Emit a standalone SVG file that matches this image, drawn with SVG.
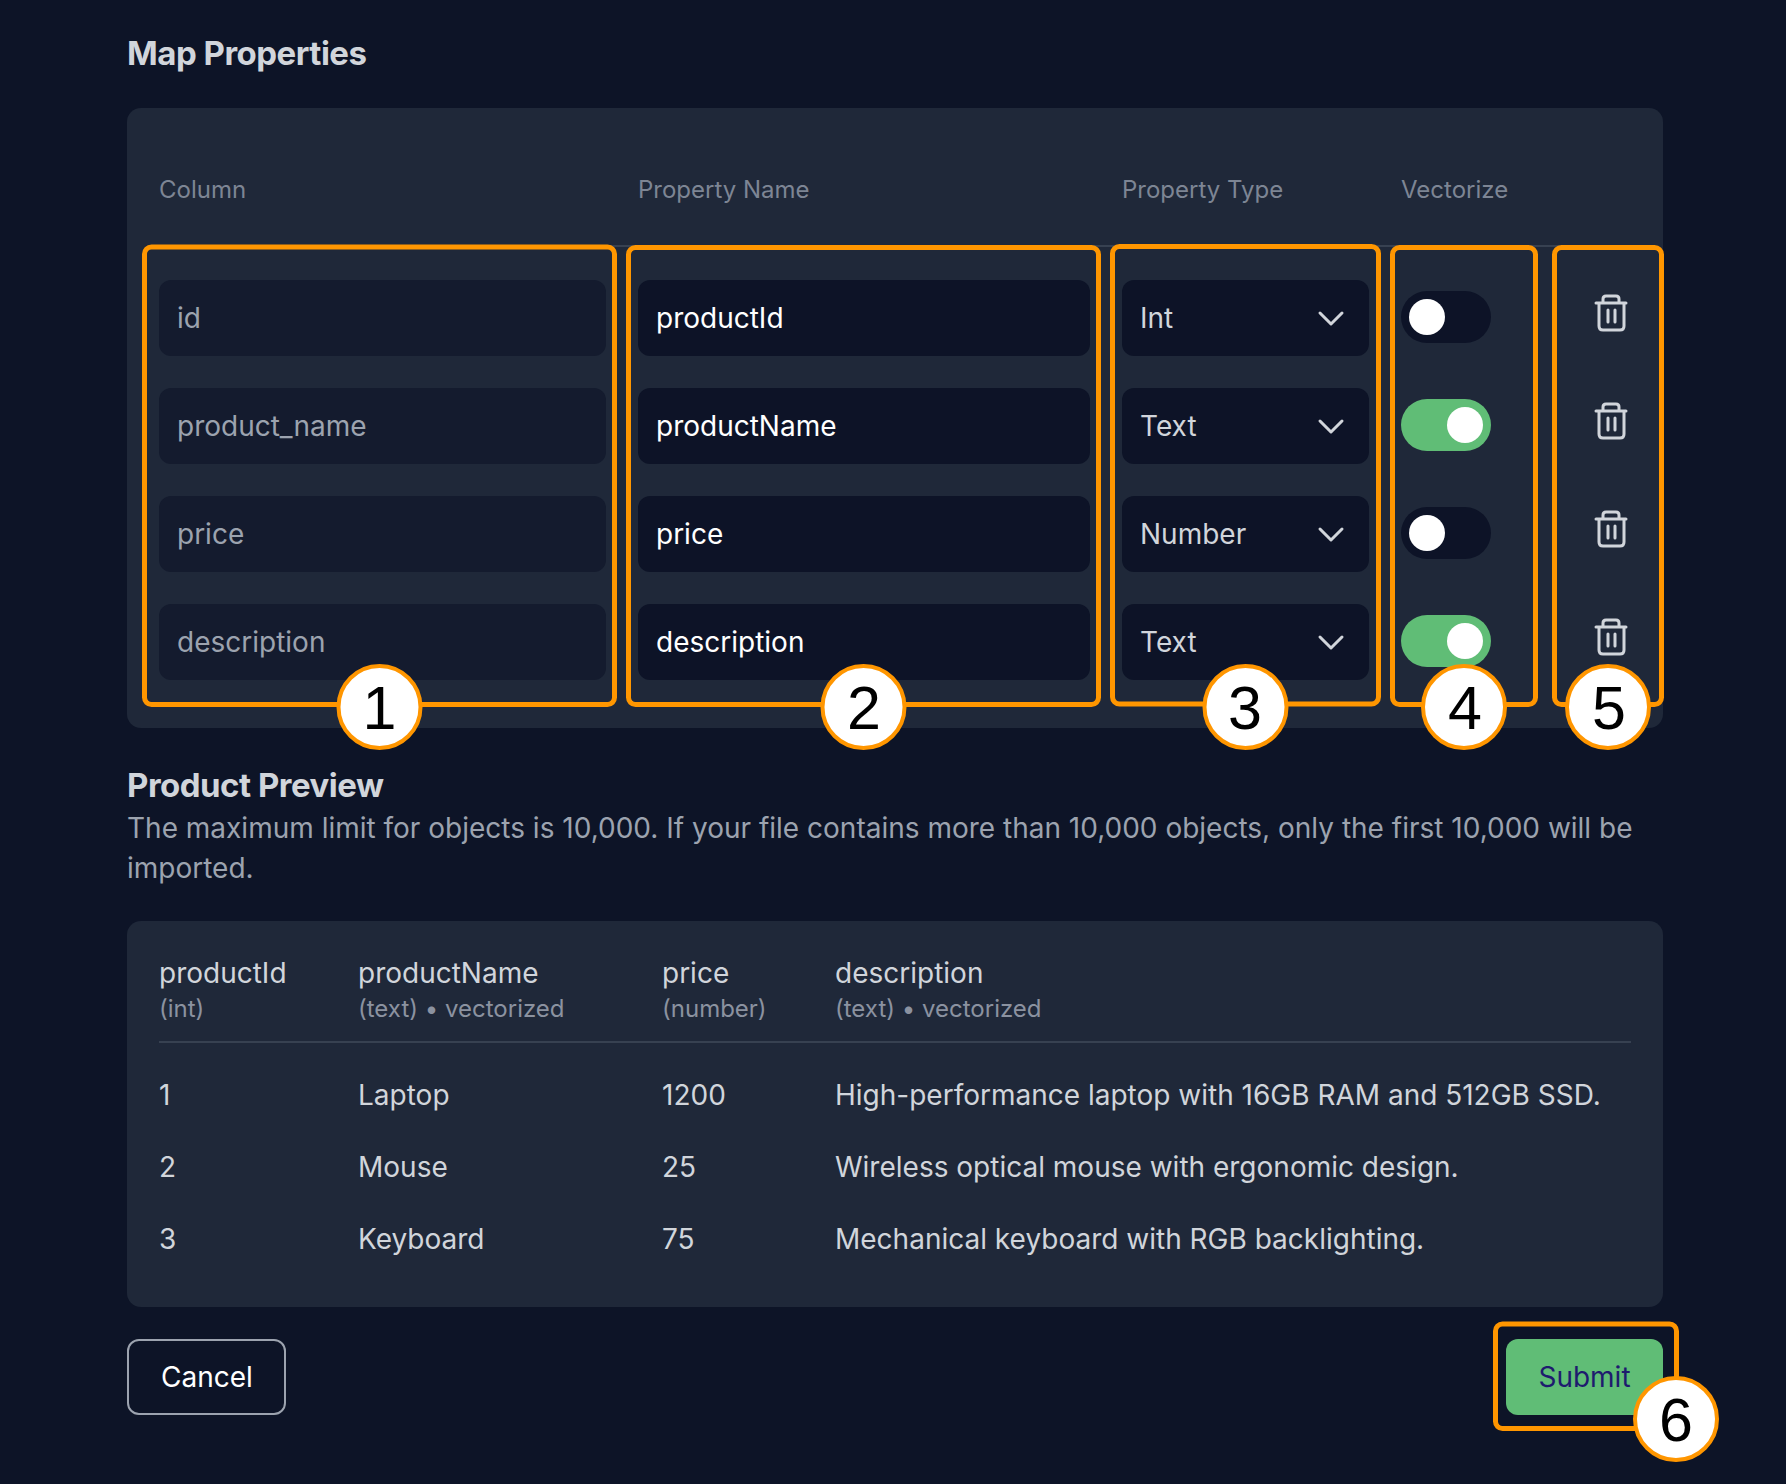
<svg xmlns="http://www.w3.org/2000/svg" width="1786" height="1484" viewBox="0 0 1786 1484">
<style>
text{font-family:"Inter","Liberation Sans",sans-serif;font-size:28px}
.h{font-weight:700;font-size:33px;fill:#d1d5db;letter-spacing:-.5px}
.th{font-size:24px;fill:#7d8594}
.ro{fill:#9ca3af}
.wh{fill:#fff}
.opt{fill:#d1d5db}
.desc{fill:#9ca3af;font-size:28px}
.pv{fill:#d1d5db}
.sub{fill:#8b92a0;font-size:24px}
.panel{fill:#1f2839}
.inro{fill:#141b2e}
.in{fill:#0d1327}
.box{fill:none;stroke:#ff9600;stroke-width:5}
.badge{fill:#fff;stroke:#ff9600;stroke-width:4}
.num{font-family:"Liberation Sans",Arimo,sans-serif;font-size:61px;fill:#000;text-anchor:middle}
.chev{fill:none;stroke:#d1d5db;stroke-width:3;stroke-linecap:round;stroke-linejoin:round}
.tr{fill:none;stroke:#d1d5db;stroke-width:3;stroke-linecap:round;stroke-linejoin:round}
.rule{stroke:#374151;stroke-width:2}
</style>
<defs>
<g id="trash"><path class="tr" d="M1596 303H1626M1599 303V326Q1599 330 1603 330H1620Q1624 330 1624 326V303M1603 303V299Q1603 296 1606 296H1616Q1619 296 1619 299V303M1608 310V322M1615 310V322"/></g>
<path id="chevron" class="chev" d="M1320 313L1331 324L1342 313"/>
</defs>
<rect width="1786" height="1484" fill="#0d1427"/>
<text class="h" x="127" y="65">Map Properties</text>
<g id="map-panel">
<rect class="panel" x="127" y="108" width="1536" height="620" rx="14"/>
<text class="th" x="159" y="198">Column</text>
<text class="th" x="638" y="198">Property Name</text>
<text class="th" x="1122" y="198">Property Type</text>
<text class="th" x="1401" y="198">Vectorize</text>
<line class="rule" x1="159" y1="246" x2="1631" y2="246"/>
</g>
<g id="col-column">
<rect class="inro" x="159" y="280" width="447" height="76" rx="12"/>
<rect class="inro" x="159" y="388" width="447" height="76" rx="12"/>
<rect class="inro" x="159" y="496" width="447" height="76" rx="12"/>
<rect class="inro" x="159" y="604" width="447" height="76" rx="12"/>
<text class="ro" x="177" y="328.200">id</text>
<text class="ro" x="177" y="436.200">product_name</text>
<text class="ro" x="177" y="544.200">price</text>
<text class="ro" x="177" y="652.200">description</text>
</g>
<g id="col-name">
<rect class="in" x="638" y="280" width="452" height="76" rx="12"/>
<rect class="in" x="638" y="388" width="452" height="76" rx="12"/>
<rect class="in" x="638" y="496" width="452" height="76" rx="12"/>
<rect class="in" x="638" y="604" width="452" height="76" rx="12"/>
<text class="wh" x="656" y="328.200">productId</text>
<text class="wh" x="656" y="436.200">productName</text>
<text class="wh" x="656" y="544.200">price</text>
<text class="wh" x="656" y="652.200">description</text>
</g>
<g id="col-type">
<rect class="in" x="1122" y="280" width="247" height="76" rx="12"/>
<rect class="in" x="1122" y="388" width="247" height="76" rx="12"/>
<rect class="in" x="1122" y="496" width="247" height="76" rx="12"/>
<rect class="in" x="1122" y="604" width="247" height="76" rx="12"/>
<text class="opt" x="1140" y="328.200">Int</text>
<text class="opt" x="1140" y="436.200">Text</text>
<text class="opt" x="1140" y="544.200">Number</text>
<text class="opt" x="1140" y="652.200">Text</text>
<use href="#chevron"/><use href="#chevron" y="108"/><use href="#chevron" y="216"/><use href="#chevron" y="324"/>
</g>
<g id="col-vectorize">
<rect class="in" x="1401" y="291" width="90" height="52" rx="26"/>
<rect fill="#60bd76" x="1401" y="399" width="90" height="52" rx="26"/>
<rect class="in" x="1401" y="507" width="90" height="52" rx="26"/>
<rect fill="#60bd76" x="1401" y="615" width="90" height="52" rx="26"/>
<circle cx="1427" cy="317" r="18" fill="#fff"/>
<circle cx="1465" cy="425" r="18" fill="#fff"/>
<circle cx="1427" cy="533" r="18" fill="#fff"/>
<circle cx="1465" cy="641" r="18" fill="#fff"/>
</g>
<g id="col-delete">
<use href="#trash"/><use href="#trash" y="108"/><use href="#trash" y="216"/><use href="#trash" y="324"/>
</g>
<g id="callout-1"><rect class="box" x="144.500" y="247" width="470" height="457.500" rx="7"/><circle class="badge" cx="379.500" cy="707" r="41"/><text class="num" x="379.500" y="729">1</text></g>
<g id="callout-2"><rect class="box" x="628.500" y="247.500" width="470" height="457" rx="7"/><circle class="badge" cx="863.500" cy="707" r="41"/><text class="num" x="864" y="729">2</text></g>
<g id="callout-3"><rect class="box" x="1112.500" y="246.500" width="266" height="457.500" rx="7"/><circle class="badge" cx="1245.500" cy="707" r="41"/><text class="num" x="1245" y="729">3</text></g>
<g id="callout-4"><rect class="box" x="1392.500" y="247.500" width="143" height="457" rx="7"/><circle class="badge" cx="1464" cy="707" r="41"/><text class="num" x="1465" y="729">4</text></g>
<g id="callout-5"><rect class="box" x="1554.500" y="247.500" width="107" height="457" rx="7"/><circle class="badge" cx="1608" cy="707" r="41"/><text class="num" x="1609" y="729">5</text></g>
<g id="preview-text">
<text class="h" x="127" y="797">Product Preview</text>
<text class="desc" x="127" y="838">The maximum limit for objects is 10,000. If your file contains more than 10,000 objects, only the first 10,000 will be</text>
<text class="desc" x="127" y="878">imported.</text>
</g>
<g id="preview-panel">
<rect class="panel" x="127" y="921" width="1536" height="386" rx="14"/>
<text class="pv" x="159" y="983">productId</text><text class="sub" x="159" y="1017">(int)</text>
<text class="pv" x="358" y="983">productName</text><text class="sub" x="358" y="1017">(text) • vectorized</text>
<text class="pv" x="662" y="983">price</text><text class="sub" x="662" y="1017">(number)</text>
<text class="pv" x="835" y="983">description</text><text class="sub" x="835" y="1017">(text) • vectorized</text>
<line class="rule" x1="159" y1="1042" x2="1631" y2="1042"/>
<text class="pv" x="159" y="1105">1</text><text class="pv" x="358" y="1105">Laptop</text><text class="pv" x="662" y="1105">1200</text><text class="pv" x="835" y="1105">High-performance laptop with 16GB RAM and 512GB SSD.</text>
<text class="pv" x="159" y="1177">2</text><text class="pv" x="358" y="1177">Mouse</text><text class="pv" x="662" y="1177">25</text><text class="pv" x="835" y="1177">Wireless optical mouse with ergonomic design.</text>
<text class="pv" x="159" y="1249">3</text><text class="pv" x="358" y="1249">Keyboard</text><text class="pv" x="662" y="1249">75</text><text class="pv" x="835" y="1249">Mechanical keyboard with RGB backlighting.</text>
</g>
<g id="cancel"><rect x="128" y="1340" width="157" height="74" rx="11" fill="none" stroke="#9ca3af" stroke-width="2"/><text class="wh" x="161" y="1387">Cancel</text></g>
<g id="submit"><rect x="1506" y="1339" width="157" height="76" rx="12" fill="#60bd76"/><text x="1584.500" y="1387" text-anchor="middle" fill="#1e1b6e">Submit</text></g>
<g id="callout-6"><rect class="box" x="1495.500" y="1324" width="181" height="104.500" rx="7"/><circle class="badge" cx="1676" cy="1419" r="41"/><text class="num" x="1676" y="1441">6</text></g>
</svg>
